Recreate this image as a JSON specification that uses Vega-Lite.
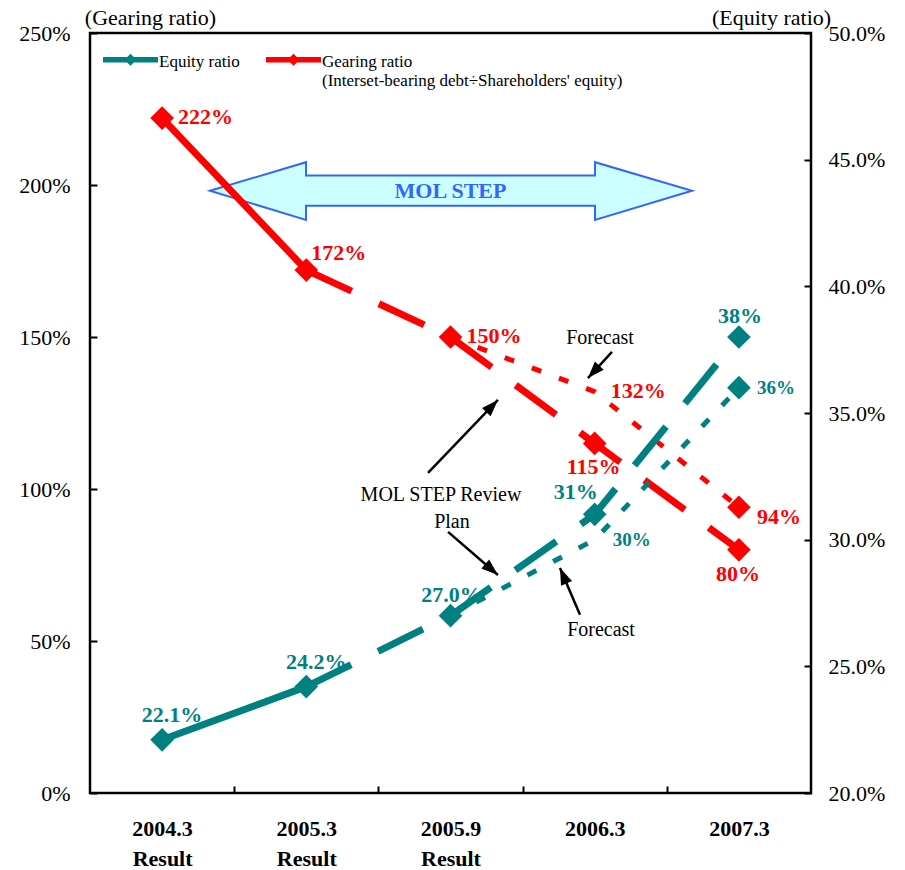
{
  "$schema": "https://vega.github.io/schema/vega-lite/v6.json",
  "width": 721,
  "height": 760,
  "autosize": "none",
  "padding": {"left": 90, "top": 33, "right": 94, "bottom": 77},
  "background": "white",
  "datasets": {
    "ratios": [
      {"series": "Gearing ratio", "idx": 0, "period": "2004.3", "status": "Result", "value": 222},
      {"series": "Gearing ratio", "idx": 1, "period": "2005.3", "status": "Result", "value": 172},
      {"series": "Gearing ratio", "idx": 2, "period": "2005.9", "status": "Result", "value": 150},
      {"series": "Gearing ratio", "idx": 3, "period": "2006.3", "status": "Plan", "value": 115},
      {"series": "Gearing ratio", "idx": 4, "period": "2007.3", "status": "Plan", "value": 80},
      {"series": "Gearing ratio", "idx": 3, "period": "2006.3", "status": "Forecast", "value": 132},
      {"series": "Gearing ratio", "idx": 4, "period": "2007.3", "status": "Forecast", "value": 94},
      {"series": "Equity ratio", "idx": 0, "period": "2004.3", "status": "Result", "value": 22.1},
      {"series": "Equity ratio", "idx": 1, "period": "2005.3", "status": "Result", "value": 24.2},
      {"series": "Equity ratio", "idx": 2, "period": "2005.9", "status": "Result", "value": 27.0},
      {"series": "Equity ratio", "idx": 3, "period": "2006.3", "status": "Plan", "value": 31},
      {"series": "Equity ratio", "idx": 4, "period": "2007.3", "status": "Plan", "value": 38},
      {"series": "Equity ratio", "idx": 3, "period": "2006.3", "status": "Forecast", "value": 30},
      {"series": "Equity ratio", "idx": 4, "period": "2007.3", "status": "Forecast", "value": 36}
    ],
    "banner": [
      {"k": 0, "x": 0.332, "top": 198.1, "bottom": 198.1},
      {"k": 1, "x": 0.998, "top": 207.5, "bottom": 188.5},
      {"k": 2, "x": 0.998, "top": 203.1, "bottom": 193.2},
      {"k": 3, "x": 3.002, "top": 203.1, "bottom": 193.2},
      {"k": 4, "x": 3.002, "top": 207.5, "bottom": 188.5},
      {"k": 5, "x": 3.675, "top": 198.1, "bottom": 198.1}
    ],
    "notes": [
      {"label": "Forecast", "x": 3.037, "y": 149.7},
      {"label": "Forecast", "x": 3.044, "y": 53.6},
      {"label": "MOL STEP Review", "x": 1.934, "y": 98.0},
      {"label": "Plan", "x": 2.01, "y": 89.1}
    ],
    "pointers": [
      {"x": 3.12, "y": 145.1, "x2": 2.953, "y2": 136.5},
      {"x": 1.844, "y": 105.3, "x2": 2.329, "y2": 129.3},
      {"x": 1.983, "y": 85.9, "x2": 2.329, "y2": 71.7},
      {"x": 2.898, "y": 58.6, "x2": 2.759, "y2": 74.0}
    ]
  },
  "config": {
    "view": {"stroke": "black", "strokeWidth": 2.5},
    "font": "Liberation Serif",
    "axis": {
      "grid": false,
      "domain": false,
      "tickColor": "black",
      "tickWidth": 2,
      "labelColor": "black",
      "labelFont": "Liberation Serif",
      "titleFont": "Liberation Serif",
      "titleColor": "black",
      "titleFontWeight": "normal"
    },
    "text": {"font": "Liberation Serif"}
  },
  "layer": [
    {
      "layer": [
        {
          "data": {"name": "banner"},
          "mark": {"type": "area", "fill": "#CCFFFF", "stroke": "#3366FF", "strokeWidth": 2, "opacity": 1},
          "encoding": {
            "x": {"field": "x", "type": "quantitative", "scale": {"domain": [-0.5, 4.5], "nice": false}},
            "y": {"field": "top", "type": "quantitative", "scale": {"domain": [0, 250], "nice": false}, "axis": null},
            "y2": {"field": "bottom"}
          }
        },
        {
          "data": {"values": [{"label": "MOL STEP", "x": 2.0, "y": 198.0}]},
          "mark": {"type": "text", "color": "#3366FF", "fontWeight": "bold", "fontSize": 22, "align": "center", "baseline": "middle"},
          "encoding": {
            "x": {"field": "x", "type": "quantitative", "scale": {"domain": [-0.5, 4.5], "nice": false}},
            "y": {"field": "y", "type": "quantitative", "scale": {"domain": [0, 250], "nice": false}, "axis": null},
            "text": {"field": "label"}
          }
        },
        {
          "data": {"name": "notes"},
          "mark": {"type": "text", "color": "black", "fontSize": 20, "align": "center", "baseline": "middle"},
          "encoding": {
            "x": {"field": "x", "type": "quantitative", "scale": {"domain": [-0.5, 4.5], "nice": false}},
            "y": {"field": "y", "type": "quantitative", "scale": {"domain": [0, 250], "nice": false}, "axis": null},
            "text": {"field": "label"}
          }
        },
        {
          "data": {"name": "pointers"},
          "mark": {"type": "rule", "color": "black", "strokeWidth": 2.5},
          "encoding": {
            "x": {"field": "x", "type": "quantitative", "scale": {"domain": [-0.5, 4.5], "nice": false}},
            "y": {"field": "y", "type": "quantitative", "scale": {"domain": [0, 250], "nice": false}, "axis": null},
            "x2": {"field": "x2"},
            "y2": {"field": "y2"}
          }
        },
        {
          "data": {"name": "pointers"},
          "transform": [
            {"calculate": "atan2((datum.x2 - datum.x) * 144.2, (datum.y2 - datum.y) * 3.04) * 180 / PI", "as": "heading"}
          ],
          "mark": {"type": "point", "shape": "M0,0L1,2.8L-1,2.8Z", "size": 144, "filled": true, "color": "black", "opacity": 1, "strokeWidth": 0},
          "encoding": {
            "x": {"field": "x2", "type": "quantitative", "scale": {"domain": [-0.5, 4.5], "nice": false}},
            "y": {"field": "y2", "type": "quantitative", "scale": {"domain": [0, 250], "nice": false}, "axis": null},
            "angle": {"field": "heading", "type": "quantitative", "scale": null}
          }
        }
      ]
    },
    {
      "data": {"name": "ratios"},
      "transform": [
        {"filter": "datum.series == 'Gearing ratio'"},
        {"calculate": "format(datum.value, 'd') + '%'", "as": "label"}
      ],
      "encoding": {
        "x": {
          "field": "idx",
          "type": "quantitative",
          "scale": {"domain": [-0.5, 4.5], "nice": false},
          "axis": {
            "title": null,
            "values": [0, 0.5, 1, 1.5, 2, 2.5, 3, 3.5, 4],
            "tickSize": -7,
            "tickOpacity": {"condition": {"test": "datum.value % 1 == 0", "value": 0}, "value": 1},
            "labelExpr": "datum.value % 1 != 0 ? '' : (datum.value <= 2 ? [['2004.3','2005.3','2005.9','2006.3','2007.3'][datum.value], 'Result'] : ['2004.3','2005.3','2005.9','2006.3','2007.3'][datum.value])",
            "labelFontSize": 22,
            "labelFontWeight": "bold",
            "labelBaseline": "top",
            "labelLineHeight": 30,
            "labelPadding": 32,
            "labelFlush": false,
            "labelOverlap": false,
            "labelBound": false
          }
        },
        "y": {
          "field": "value",
          "type": "quantitative",
          "scale": {"domain": [0, 250], "nice": false},
          "axis": {
            "title": "(Gearing ratio)",
            "titleAngle": 0,
            "titleAlign": "center",
            "titleBaseline": "middle",
            "titleX": 60,
            "titleY": -16,
            "titleFontSize": 22,
            "values": [0, 50, 100, 150, 200, 250],
            "labelExpr": "datum.value + '%'",
            "labelFontSize": 22,
            "tickSize": -7,
            "labelPadding": 27,
            "labelFlush": false,
            "labelOverlap": false
          }
        }
      },
      "layer": [
        {
          "transform": [{"filter": "datum.status == 'Result' && datum.idx <= 1"}],
          "mark": {"type": "line", "color": "#FF0000", "strokeWidth": 7}
        },
        {
          "transform": [{"filter": "(datum.status == 'Result' && datum.idx >= 1) || datum.status == 'Plan'"}],
          "mark": {"type": "line", "color": "#FF0000", "strokeWidth": 7, "strokeDash": [50, 30]}
        },
        {
          "transform": [{"filter": "(datum.status == 'Result' && datum.idx == 2) || datum.status == 'Forecast'"}],
          "mark": {"type": "line", "color": "#FF0000", "strokeWidth": 5, "strokeDash": [10, 19]}
        },
        {
          "transform": [{"filter": "datum.status != 'Forecast' || datum.idx == 4"}],
          "mark": {"type": "point", "shape": "diamond", "filled": true, "size": 560, "opacity": 1, "strokeWidth": 0},
          "encoding": {
            "color": {
              "field": "series",
              "type": "nominal",
              "scale": {"domain": ["Equity ratio", "Gearing ratio"], "range": ["#008080", "#FF0000"]},
              "legend": {
                "orient": "none",
                "legendX": 13,
                "legendY": -7,
                "direction": "horizontal",
                "title": null,
                "padding": 0,
                "symbolType": "M-1,0.12H1V0.32H-1Z M0,0L0.22,0.22L0,0.44L-0.22,0.22Z",
                "symbolSize": 3025,
                "symbolStrokeWidth": 0,
                "symbolOpacity": 1,
                "labelFont": "Liberation Serif",
                "labelFontSize": 17,
                "labelColor": "black",
                "labelBaseline": "top",
                "labelOffset": 1,
                "labelLimit": 500,
                "columnPadding": 26,
                "labelExpr": "datum.label == 'Gearing ratio' ? ['Gearing ratio', \"(Interset-bearing debt÷Shareholders' equity)\"] : [datum.label, '']"
              }
            }
          }
        },
        {
          "transform": [{"filter": "(datum.status == 'Result' && (datum.idx == 0 || datum.idx == 2)) || (datum.status == 'Forecast' && datum.idx == 3)"}],
          "mark": {"type": "text", "color": "#FF0000", "fontWeight": "bold", "fontSize": 22, "align": "left", "baseline": "middle", "dx": 16, "dy": -1},
          "encoding": {"text": {"field": "label"}}
        },
        {
          "transform": [{"filter": "datum.status == 'Result' && datum.idx == 1"}],
          "mark": {"type": "text", "color": "#FF0000", "fontWeight": "bold", "fontSize": 22, "align": "left", "baseline": "middle", "dx": 5, "dy": -17},
          "encoding": {"text": {"field": "label"}}
        },
        {
          "transform": [{"filter": "datum.status == 'Plan'"}],
          "mark": {"type": "text", "color": "#FF0000", "fontWeight": "bold", "fontSize": 22, "align": "center", "baseline": "middle", "dx": -1, "dy": 24},
          "encoding": {"text": {"field": "label"}}
        },
        {
          "transform": [{"filter": "datum.status == 'Forecast' && datum.idx == 4"}],
          "mark": {"type": "text", "color": "#FF0000", "fontWeight": "bold", "fontSize": 22, "align": "left", "baseline": "middle", "dx": 18, "dy": 10},
          "encoding": {"text": {"field": "label"}}
        }
      ]
    },
    {
      "data": {"name": "ratios"},
      "transform": [
        {"filter": "datum.series == 'Equity ratio'"},
        {"calculate": "datum.status == 'Result' ? format(datum.value, '.1f') + '%' : format(datum.value, 'd') + '%'", "as": "label"}
      ],
      "encoding": {
        "x": {"field": "idx", "type": "quantitative", "scale": {"domain": [-0.5, 4.5], "nice": false}},
        "y": {
          "field": "value",
          "type": "quantitative",
          "scale": {"domain": [20, 50], "nice": false, "zero": false},
          "axis": {
            "orient": "right",
            "title": "(Equity ratio)",
            "titleAngle": 0,
            "titleAlign": "center",
            "titleBaseline": "middle",
            "titleX": -40,
            "titleY": -16,
            "titleFontSize": 22,
            "values": [20, 25, 30, 35, 40, 45, 50],
            "labelExpr": "format(datum.value, '.1f') + '%'",
            "labelFontSize": 22,
            "tickSize": -7,
            "labelPadding": 24,
            "labelFlush": false,
            "labelOverlap": false
          }
        }
      },
      "layer": [
        {
          "transform": [{"filter": "datum.status == 'Result' && datum.idx <= 1"}],
          "mark": {"type": "line", "color": "#008080", "strokeWidth": 7}
        },
        {
          "transform": [{"filter": "(datum.status == 'Result' && datum.idx >= 1) || datum.status == 'Plan'"}],
          "mark": {"type": "line", "color": "#008080", "strokeWidth": 7, "strokeDash": [50, 30]}
        },
        {
          "transform": [{"filter": "(datum.status == 'Result' && datum.idx == 2) || datum.status == 'Forecast'"}],
          "mark": {"type": "line", "color": "#008080", "strokeWidth": 5, "strokeDash": [10, 19]}
        },
        {
          "transform": [{"filter": "datum.status != 'Forecast' || datum.idx == 4"}],
          "mark": {"type": "point", "shape": "diamond", "filled": true, "size": 560, "opacity": 1, "strokeWidth": 0},
          "encoding": {
            "color": {
              "field": "series",
              "type": "nominal",
              "scale": {"domain": ["Equity ratio", "Gearing ratio"], "range": ["#008080", "#FF0000"]},
              "legend": {
                "orient": "none",
                "legendX": 13,
                "legendY": -7,
                "direction": "horizontal",
                "title": null,
                "padding": 0,
                "symbolType": "M-1,0.12H1V0.32H-1Z M0,0L0.22,0.22L0,0.44L-0.22,0.22Z",
                "symbolSize": 3025,
                "symbolStrokeWidth": 0,
                "symbolOpacity": 1,
                "labelFont": "Liberation Serif",
                "labelFontSize": 17,
                "labelColor": "black",
                "labelBaseline": "top",
                "labelOffset": 1,
                "labelLimit": 500,
                "columnPadding": 26,
                "labelExpr": "datum.label == 'Gearing ratio' ? ['Gearing ratio', \"(Interset-bearing debt÷Shareholders' equity)\"] : [datum.label, '']"
              }
            }
          }
        },
        {
          "transform": [{"filter": "(datum.status == 'Result' && datum.idx == 2) || (datum.status == 'Plan' && datum.idx == 4)"}],
          "mark": {"type": "text", "color": "#008080", "fontWeight": "bold", "fontSize": 22, "align": "center", "baseline": "middle", "dx": 1, "dy": -21},
          "encoding": {"text": {"field": "label"}}
        },
        {
          "transform": [{"filter": "datum.status == 'Result' && datum.idx <= 1"}],
          "mark": {"type": "text", "color": "#008080", "fontWeight": "bold", "fontSize": 22, "align": "center", "baseline": "middle", "dx": 10, "dy": -25},
          "encoding": {"text": {"field": "label"}}
        },
        {
          "transform": [{"filter": "datum.status == 'Plan' && datum.idx == 3"}],
          "mark": {"type": "text", "color": "#008080", "fontWeight": "bold", "fontSize": 22, "align": "center", "baseline": "middle", "dx": -19, "dy": -22},
          "encoding": {"text": {"field": "label"}}
        },
        {
          "transform": [{"filter": "datum.status == 'Forecast'"}],
          "mark": {"type": "text", "color": "#008080", "fontWeight": "bold", "fontSize": 19, "align": "left", "baseline": "middle", "dx": 18, "dy": 0},
          "encoding": {"text": {"field": "label"}}
        }
      ]
    }
  ],
  "resolve": {"scale": {"y": "independent"}}
}
